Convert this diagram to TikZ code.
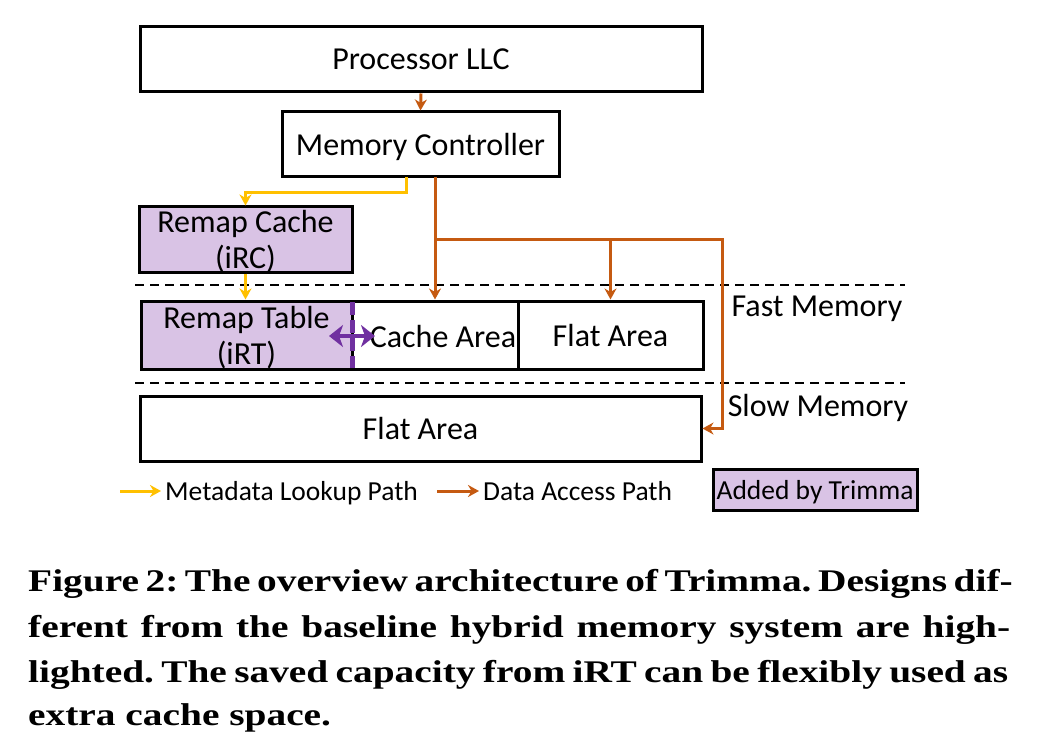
\documentclass[tikz,border=0pt]{standalone}
\usepackage{fontspec}
\setmainfont{Carlito}
\newfontfamily\capfont[FakeStretch=1.25]{Liberation Serif}
\usetikzlibrary{arrows.meta}
\definecolor{dorange}{HTML}{C55A11}
\definecolor{dyellow}{HTML}{FFC000}
\definecolor{lpurple}{HTML}{D9C3E5}
\definecolor{dpurple}{HTML}{7030A0}
\frenchspacing
\begin{document}
\begin{tikzpicture}[x=1pt,y=-1pt,
  box/.style={draw=black,line width=3pt,inner sep=0pt,minimum width=#1},
  pbox/.style={box=#1,fill=lpurple},
  oline/.style={draw=dorange,line width=3pt},
  yline/.style={draw=dyellow,line width=3pt},
  tip/.style={-{Stealth[length=11pt,width=12pt,inset=3.5pt]}},
  sep/.style={draw=black,line width=2pt,dash pattern=on 9pt off 6pt},
  lbl/.style={inner sep=0pt,font=\fontsize{32}{36}\selectfont,align=center,text depth=0pt},
  leg/.style={inner sep=0pt,font=\fontsize{27.5}{30}\selectfont,align=center,text depth=0pt},
  captext/.style={inner sep=0pt,anchor=base west,font=\capfont\bfseries\fontsize{31.5}{45}\selectfont}
]
\useasboundingbox (0,0) rectangle (1043,743);
% boxes
\node[box=562pt,minimum height=65pt,lbl] (llc) at (421,59.5) {Processor LLC};
\node[box=277pt,minimum height=65pt,lbl] (mc) at (420.5,144.5) {Memory Controller};
\node[pbox=213pt,minimum height=65pt,lbl] (rc) at (245.5,239.5) {Remap Cache\\(iRC)};
\node[pbox=211pt,minimum height=68pt,lbl] (rt) at (246.5,335) {Remap Table\\(iRT)};
\node[box=166pt,minimum height=68pt] (cache) at (435,335) {};
\node[lbl] (cachet) at (443,336) {Cache Area};
\node[box=185pt,minimum height=68pt,lbl] (flatf) at (610.5,335) {Flat Area};
\node[box=561pt,minimum height=65pt,lbl] (slow) at (420.5,428.5) {Flat Area};
% separators
\coordinate (s1a) at (135,285); \coordinate (s1b) at (905,285);
\coordinate (s2a) at (135,383); \coordinate (s2b) at (905,383);
\draw[sep] (s1a) -- (s1b);
\draw[sep] (s2a) -- (s2b);
\node[lbl] (fast) at (817,306) {Fast Memory};
\node[lbl] (slowt) at (818,405) {Slow Memory};
% orange paths
\draw[oline,tip] (llc.south) -- (mc.north);
\coordinate (mo) at (435,177);
\coordinate (j1) at (435,240);
\coordinate (j2) at (610.5,240);
\coordinate (j3) at (722,240);
\coordinate (j4) at (722,428.5);
\draw[oline] (mo) -- (j1);
\draw[oline,tip] (j1) -- (cache.north);
\draw[oline,tip] (j2) -- (flatf.north);
\draw[oline,tip,line join=miter] (j1) -- (j3) -- (j4) -- (slow.east);
% yellow paths
\coordinate (my) at (406,177);
\coordinate (y1) at (406,193);
\coordinate (y2) at (245.5,193);
\draw[yline,tip,line join=miter] (my) -- (y1) -- (y2) -- (rc.north);
\draw[yline,tip] (rc.south) -- (rt.north -| rc.south);
% purple
\coordinate (pa) at (352,302); \coordinate (pb) at (352,368);
\draw[draw=dpurple,line width=5pt,dash pattern=on 13pt off 5pt] (pa) -- (pb);
\coordinate (pl) at (329,336); \coordinate (pr) at (375,336);
\draw[draw=dpurple,line width=4.5pt,{Stealth[length=14pt,width=22pt,inset=4pt]}-{Stealth[length=14pt,width=22pt,inset=4pt]}] (pl) -- (pr);
% legend
\coordinate (ly1) at (120,491); \coordinate (ly2) at (161,491);
\draw[yline,tip] (ly1) -- (ly2);
\node[leg,anchor=west] (lyt) at (165,491) {Metadata Lookup Path};
\coordinate (lo1) at (437,491); \coordinate (lo2) at (479,491);
\draw[oline,tip] (lo1) -- (lo2);
\node[leg,anchor=west] (lot) at (483,491) {Data Access Path};
\node[pbox=204pt,minimum height=41pt,leg] (added) at (815,489.5) {Added by Trimma};
% caption
\node[captext] (c1) at (28,591) {\makebox[982pt][s]{Figure 2: The overview architecture of Trimma. Designs dif-}};
\node[captext] (c2) at (28,637) {\makebox[982pt][s]{ferent from the baseline hybrid memory system are high-}};
\node[captext] (c3) at (28,682) {\makebox[980pt][s]{lighted. The saved capacity from iRT can be flexibly used as}};
\node[captext] (c4) at (28,725) {extra cache space.};
\end{tikzpicture}
\end{document}
